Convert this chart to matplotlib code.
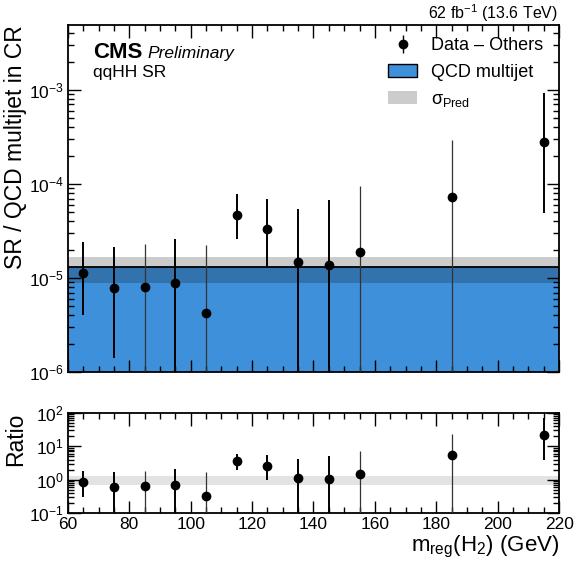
import numpy as np
import matplotlib.pyplot as plt
from matplotlib.patches import Patch
from matplotlib.ticker import LogLocator, MultipleLocator, NullFormatter

plt.rcParams['font.family'] = ['Liberation Sans', 'DejaVu Sans']
plt.rcParams['mathtext.fontset'] = 'custom'
plt.rcParams['mathtext.rm'] = 'Liberation Sans'
plt.rcParams['mathtext.it'] = 'Liberation Sans:italic'
plt.rcParams['mathtext.bf'] = 'Liberation Sans:bold'

# bin edges and centres of the m_reg(H2) histogram (GeV)
edges = [60, 70, 80, 90, 100, 110, 120, 130, 140, 150, 160, 170, 200, 230]
centers = [65, 75, 85, 95, 105, 115, 125, 135, 145, 155, 185, 215]

# QCD multijet prediction (SR / CR transfer) and its uncertainty band
qcd = [1.3e-5] * 13
qcd_lo = [0.89e-5] * 13
qcd_hi = [1.68e-5] * 13

# Data - Others, with upper and lower edges of the error bars (0 = below axis)
data = [1.12e-5, 0.79e-5, 0.81e-5, 0.88e-5, 0.42e-5, 4.67e-5, 3.32e-5,
        1.49e-5, 1.37e-5, 1.9e-5, 7.3e-5, 2.8e-4]
data_up = [2.42e-5, 2.13e-5, 2.29e-5, 2.63e-5, 2.23e-5, 7.9e-5, 6.96e-5,
           5.37e-5, 6.7e-5, 9.4e-5, 2.96e-4, 9.3e-4]
data_dn = [0.40e-5, 0.142e-5, 0, 0, 0, 2.59e-5, 1.3e-5,
           0, 0, 0, 0, 4.9e-5]
thin = [85, 105, 155, 185]

blue = '#3f90da'

fig = plt.figure(figsize=(5.8, 5.62), dpi=100)
ax = fig.add_axes([0.117, 0.338, 0.847, 0.6175])
rax = fig.add_axes([0.117, 0.0872, 0.847, 0.178])

data = np.array(data)
up = np.array(data_up)
dn = np.maximum(np.array(data_dn), 1e-12)
qcd_c = qcd[0]


def draw_points(a, y, yup, ydn):
    for xi, yi, u, d in zip(centers, y, yup, ydn):
        if xi in thin:
            a.vlines(xi, d, u, color='#333333', lw=0.9, zorder=4)
        else:
            a.vlines(xi, d, u, color='k', lw=1.4, zorder=4)
    a.plot(centers, y, 'o', color='k', ms=6, zorder=5)


# main panel
ax.stairs(qcd, edges, baseline=1e-12, fill=True, color=blue, zorder=1)
ax.stairs(qcd, edges, baseline=1e-12, color='k', lw=1.3, zorder=2)
ax.stairs(qcd_hi, edges, baseline=qcd_lo, fill=True, color='k', alpha=0.2,
          lw=0, zorder=3)
draw_points(ax, data, up, dn)

ax.set_yscale('log')
ax.set_xlim(60, 220)
ax.set_ylim(1e-6, 4.9e-3)
ax.set_ylabel('SR / QCD multijet in CR', fontsize=16.5, loc='top')
ax.tick_params(labelbottom=False)

# ratio panel
ratio = data / qcd_c
ratio_up = up / qcd_c
ratio_dn = dn / qcd_c
rax.stairs(np.array(qcd_hi) / qcd_c, edges, baseline=np.array(qcd_lo) / qcd_c,
           fill=True, color='k', alpha=0.11, lw=0, zorder=1)
draw_points(rax, ratio, ratio_up, ratio_dn)
rax.set_yscale('log')
rax.set_xlim(60, 220)
rax.set_ylim(0.1, 100)
rax.set_ylabel('Ratio', fontsize=16.5, loc='top')
rax.set_xlabel(r'm$_\mathrm{reg}$(H$_2$) (GeV)', fontsize=16, loc='right',
               labelpad=1)

for a in (ax, rax):
    a.xaxis.set_major_locator(MultipleLocator(20))
    a.xaxis.set_minor_locator(MultipleLocator(5))
    a.yaxis.set_major_locator(LogLocator(base=10, numticks=20))
    a.yaxis.set_minor_locator(LogLocator(base=10, subs=np.arange(2, 10), numticks=20))
    a.yaxis.set_minor_formatter(NullFormatter())
    a.tick_params(which='both', direction='in', top=True, right=True,
                  labelsize=12.5, width=1, pad=3)
    a.tick_params(which='major', length=9)
    a.tick_params(which='minor', length=4.5)
    for s in a.spines.values():
        s.set_linewidth(1.3)
ax.yaxis.set_label_coords(-0.083, 1.0)
rax.yaxis.set_label_coords(-0.083, 1.0)

# labels
ax.text(0.051, 0.905, 'CMS', transform=ax.transAxes, fontsize=16,
        fontweight='bold', va='baseline')
ax.text(0.162, 0.905, 'Preliminary', transform=ax.transAxes, fontsize=12.5,
        style='italic', va='baseline')
ax.text(0.051, 0.85, 'qqHH SR', transform=ax.transAxes, fontsize=12.5,
        va='baseline')
ax.text(0.998, 1.016, r'62 fb$^{-1}$ (13.6 TeV)', transform=ax.transAxes,
        fontsize=11.5, ha='right', va='baseline')

h0 = ax.errorbar([], [], yerr=[], fmt='o', color='k', ms=6, lw=1)
handles = [
    h0,
    Patch(facecolor=blue, edgecolor='k', lw=1),
    Patch(facecolor='#cccccc', edgecolor='none'),
]
labels = ['Data – Others', 'QCD multijet', r'σ$_\mathrm{Pred}$']
ax.legend(handles, labels, loc='upper left', bbox_to_anchor=(0.652, 0.965),
          frameon=False, fontsize=13, handlelength=1.6, handletextpad=0.8,
          labelspacing=0.55, borderpad=0, borderaxespad=0)

fig.savefig('out.png', dpi=100)
